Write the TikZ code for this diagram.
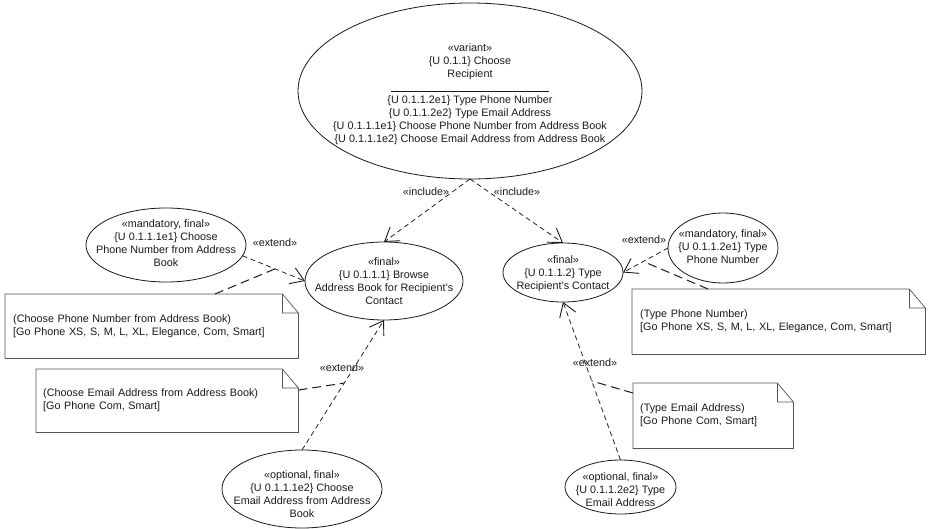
\documentclass[tikz,border=0pt]{standalone}
\usepackage{fontspec}
\setmainfont{Liberation Sans}
\usetikzlibrary{shapes.geometric,arrows.meta}
\definecolor{ink}{HTML}{1A1A1A}
\definecolor{noteedge}{HTML}{555555}
% centred multi-line text that does not enlarge the use-case ellipse
\newcommand{\uctext}[2][0pt]{\smash{\raisebox{#1}{\makebox[0pt]{\begin{tabular}{@{}c@{}}#2\end{tabular}}}}}
\begin{document}
\begin{tikzpicture}[x=1pt,y=-1pt,
  font=\fontsize{10.8}{13}\selectfont, text=ink,
  uc/.style={ellipse, draw=ink, line width=0.8pt, fill=white, inner sep=0pt, outer sep=0pt},
  rel/.style={draw=ink, line width=0.75pt, dash pattern=on 5pt off 3.5pt,
    -{Straight Barb[length=13pt,width=17pt,line width=0.9pt]}},
  stereo/.style={inner sep=1pt, text=ink},
  notebox/.style={rectangle, fill=white, inner xsep=8pt, inner ysep=0pt, align=left, anchor=north west},
  notelink/.style={draw=ink, line width=1pt, dash pattern=on 9pt off 5pt},
  noteline/.style={draw=noteedge, line width=0.7pt}]
\fill[white] (0,0) rectangle (933,529);
\useasboundingbox (0,0) rectangle (933,529);

% ---------- use cases ----------
\node[uc, minimum width=344pt, minimum height=176pt] (choose) at (470,91)
  {\uctext[-6.2pt]{«variant»\\\{U 0.1.1\} Choose\\Recipient\\[12.4pt]
   \{U 0.1.1.2e1\} Type Phone Number\\
   \{U 0.1.1.2e2\} Type Email Address\\
   \{U 0.1.1.1e1\} Choose Phone Number from Address Book\\
   \{U 0.1.1.1e2\} Choose Email Address from Address Book}};
\draw[ink, line width=0.7pt] ([xshift=-79pt]choose.center) -- ([xshift=79pt]choose.center);

\node[uc, minimum width=158pt, minimum height=78pt] (browse) at (384,281)
  {\uctext[-4pt]{«final»\\\{U 0.1.1.1\} Browse\\Address Book for Recipient's\\Contact}};
\node[uc, minimum width=120pt, minimum height=59pt] (typec) at (563,272.5)
  {\uctext[-4.5pt]{«final»\\\{U 0.1.1.2\} Type\\Recipient's Contact}};
\node[uc, minimum width=160pt, minimum height=74pt] (mandA) at (166,245)
  {\uctext[-2.5pt]{«mandatory, final»\\\{U 0.1.1.1e1\} Choose\\Phone Number from Address\\Book}};
\node[uc, minimum width=110pt, minimum height=70pt] (mandB) at (723,248)
  {\uctext[-2.5pt]{«mandatory, final»\\\{U 0.1.1.2e1\} Type\\Phone Number}};
\node[uc, minimum width=160pt, minimum height=78pt] (optA) at (302,489)
  {\uctext[-9pt]{«optional, final»\\\{U 0.1.1.1e2\} Choose\\Email Address from Address\\Book}};
\node[uc, minimum width=111pt, minimum height=54pt] (optB) at (620.5,487)
  {\uctext[-6.5pt]{«optional, final»\\\{U 0.1.1.2e2\} Type\\Email Address}};

% ---------- notes ----------
\node[notebox, minimum width=293pt, minimum height=64pt, text width=277pt] (noteA) at (5,294)
  {(Choose Phone Number from Address Book)\\{}[Go Phone XS, S, M, L, XL, Elegance, Com, Smart]};
\node[notebox, minimum width=262pt, minimum height=63pt, text width=248pt, inner xsep=7pt] (noteB) at (36,369)
  {(Choose Email Address from Address Book)\\{}[Go Phone Com, Smart]};
\node[notebox, minimum width=293pt, minimum height=65pt, text width=277pt] (noteC) at (632,289)
  {(Type Phone Number)\\{}[Go Phone XS, S, M, L, XL, Elegance, Com, Smart]};
\node[notebox, minimum width=160pt, minimum height=65pt, text width=146pt, inner xsep=7pt] (noteD) at (633,383)
  {(Type Email Address)\\{}[Go Phone Com, Smart]};
\foreach \n in {noteA,noteB,noteC,noteD}
  \draw[noteline] (\n.north west) -- ([xshift=-16pt]\n.north east) -- ([yshift=-19pt]\n.north east)
    -- (\n.south east) -- (\n.south west) -- cycle
    ([xshift=-16pt]\n.north east) |- ([yshift=-19pt]\n.north east);

% ---------- relationships ----------
\draw[rel] (choose.south) -- (browse.north);
\draw[rel] (choose.south) -- (typec.north);
\draw[rel] (mandA.-8) -- coordinate[pos=0.52] (extA) (browse.west);
\draw[rel] (optA.north) -- coordinate[pos=0.515] (extB) (browse.south);
\draw[rel] (mandB.west) -- coordinate[pos=0.55] (extC) (typec.east);
\draw[rel] (optB.north) -- coordinate[pos=0.5] (extD) (typec.south);

\node[stereo] (incA) at (426,192) {«include»};
\node[stereo] (incB) at (517,192) {«include»};
\node[stereo] (extlA) at (275,243) {«extend»};
\node[stereo] (extlB) at (342,368) {«extend»};
\node[stereo] (extlC) at (644,240) {«extend»};
\node[stereo] (extlD) at (595,363) {«extend»};

% ---------- note attachments ----------
\draw[notelink] ([xshift=210pt]noteA.north west) -- (extA);
\draw[notelink] ([yshift=-21pt]noteB.north east) -- (extB);
\draw[notelink] ([xshift=76pt]noteC.north west) -- (extC);
\draw[notelink] ([yshift=-10pt]noteD.north west) -- (extD);
\end{tikzpicture}
\end{document}
